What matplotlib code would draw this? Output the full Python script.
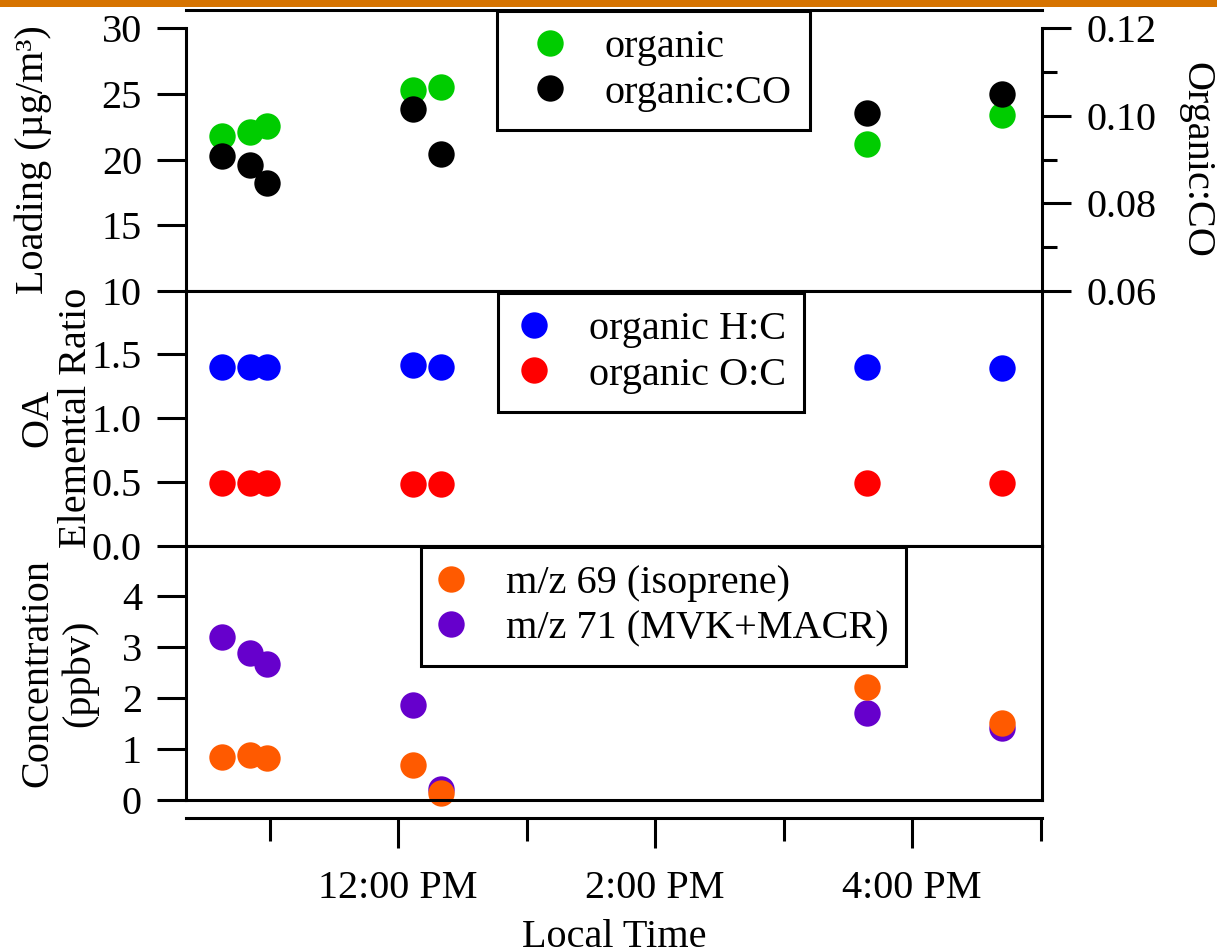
"""
Aerosol loading, elemental ratios and VOC concentrations over one afternoon.
"""

import matplotlib.pyplot as plt
from matplotlib.lines import Line2D
from matplotlib.patches import Rectangle
from matplotlib.ticker import FixedLocator

plt.rcParams["font.family"] = ["Liberation Serif", "DejaVu Serif"]

# sample times (local) and measured values
sample_times = ["10:38", "10:51", "10:59", "12:07", "12:20", "15:39", "16:42"]
organic = [21.8, 22.1, 22.6, 25.3, 25.5, 21.2, 23.4]
organic_co = [0.0909, 0.0888, 0.0847, 0.1016, 0.0914, 0.1006, 0.1050]
organic_hc = [1.40, 1.40, 1.40, 1.41, 1.40, 1.40, 1.39]
organic_oc = [0.49, 0.49, 0.49, 0.48, 0.48, 0.49, 0.49]
mz69_isoprene = [0.85, 0.88, 0.82, 0.69, 0.13, 2.21, 1.50]
mz71_mvk_macr = [3.20, 2.87, 2.66, 1.87, 0.21, 1.71, 1.42]

hour_ticks = [12, 14, 16]
hour_labels = ["12:00 PM", "2:00 PM", "4:00 PM"]
hour_minor = [11, 13, 15, 17]

W, H, DPI = 1217, 951, 100
FS = 29
LW = 2.2
MS = 19


def to_hours(stamp: str) -> float:
    hours, minutes = stamp.split(":")
    return int(hours) + int(minutes) / 60.0


def px_box(left, top, right, bottom):
    return [left / W, 1 - bottom / H, (right - left) / W, (bottom - top) / H]


def style_left(axis, ticks, labels):
    axis.set_yticks(ticks, labels)
    axis.tick_params(
        axis="y", which="major", direction="out", length=20.9, width=LW,
        pad=10.8, labelsize=FS, right=False,
    )
    axis.tick_params(axis="x", which="both", bottom=False, labelbottom=False)


def add_legend(axis, handles, left_px, top_px, handlelength, textpad):
    legend = axis.legend(
        handles=handles,
        loc="upper left",
        bbox_to_anchor=(left_px / W, 1 - top_px / H),
        bbox_transform=fig.transFigure,
        borderaxespad=0,
        fancybox=False,
        framealpha=1,
        edgecolor="black",
        fontsize=FS,
        handlelength=handlelength,
        handletextpad=textpad,
        borderpad=0.45,
        labelspacing=0.2,
    )
    legend.get_frame().set_linewidth(LW)
    return legend


def dots(color, label):
    return Line2D([], [], linestyle="none", marker="o", markersize=MS,
                  markerfacecolor=color, markeredgecolor="none", label=label)


hours = [to_hours(s) for s in sample_times]

fig = plt.figure(figsize=(W / DPI, H / DPI), dpi=DPI)
fig.add_artist(Rectangle((0, 1 - 6.5 / H), 1, 6.5 / H,
                         transform=fig.transFigure, color="#D67300", lw=0))

ax_load = fig.add_axes(px_box(186, 10, 1042, 291))
ax_ratio = fig.add_axes(px_box(186, 291, 1042, 545.5), sharex=ax_load)
ax_conc = fig.add_axes(px_box(186, 545.5, 1042, 800), sharex=ax_load)
ax_co = ax_load.twinx()

for axis in (ax_load, ax_ratio, ax_conc, ax_co):
    for spine in axis.spines.values():
        spine.set_linewidth(LW)

ax_load.set_xlim(10.35, 17.01)

# top panel: loading and organic:CO
ax_load.set_ylim(10, 31.4)
ax_load.spines["right"].set_visible(False)
ax_load.spines["left"].set_bounds(10, 30)
style_left(ax_load, [10, 15, 20, 25, 30], ["10", "15", "20", "25", "30"])

ax_co.set_ylim(0.06, 0.1242)
for side in ("left", "top", "bottom"):
    ax_co.spines[side].set_visible(False)
ax_co.spines["right"].set_bounds(0.06, 0.12)
ax_co.set_yticks([0.06, 0.08, 0.10, 0.12], ["0.06", "0.08", "0.10", "0.12"])
ax_co.yaxis.set_minor_locator(FixedLocator([0.07, 0.09, 0.11]))
ax_co.tick_params(axis="y", which="major", direction="out", length=20.9,
                  width=LW, pad=10.8, labelsize=FS)
ax_co.tick_params(axis="y", which="minor", direction="out", length=10.8,
                  width=LW)

ax_load.plot(hours, organic, "o", ms=MS, color="#00CC00", mec="none",
             clip_on=False)
ax_co.plot(hours, organic_co, "o", ms=MS, color="black", mec="none",
           clip_on=False)

# middle panel: elemental ratios
ax_ratio.set_ylim(0, 1.993)
style_left(ax_ratio, [0.0, 0.5, 1.0, 1.5], ["0.0", "0.5", "1.0", "1.5"])
ax_ratio.plot(hours, organic_hc, "o", ms=MS, color="#0000FF", mec="none")
ax_ratio.plot(hours, organic_oc, "o", ms=MS, color="#FF0000", mec="none")

# bottom panel: VOC concentrations
ax_conc.set_ylim(0, 4.985)
style_left(ax_conc, [0, 1, 2, 3, 4], ["0", "1", "2", "3", "4"])
ax_conc.plot(hours, mz71_mvk_macr, "o", ms=MS, color="#6600CC", mec="none",
             clip_on=False)
ax_conc.plot(hours, mz69_isoprene, "o", ms=MS, color="#FF5A00", mec="none",
             clip_on=False)

# detached time axis below the panels
time_axis = ax_conc.secondary_xaxis(-18 / 254.5)
time_axis.spines["bottom"].set_linewidth(LW)
time_axis.set_xticks(hour_ticks, hour_labels)
time_axis.xaxis.set_minor_locator(FixedLocator(hour_minor))
time_axis.tick_params(axis="x", which="major", direction="out", length=21.6,
                      width=LW, pad=16, labelsize=FS)
time_axis.tick_params(axis="x", which="minor", direction="out", length=16.5,
                      width=LW)

add_legend(ax_co, [dots("#00CC00", "organic"), dots("black", "organic:CO")],
           497, 11, 1.75, 0.475)
add_legend(ax_ratio, [dots("#0000FF", "organic H:C"),
                      dots("#FF0000", "organic O:C")],
           498, 293, 0.9, 0.9)
add_legend(ax_conc, [dots("#FF5A00", "m/z 69 (isoprene)"),
                     dots("#6600CC", "m/z 71 (MVK+MACR)")],
           421, 547, 0.6, 1.05)

label_kw = dict(fontsize=FS, ha="center", va="center", rotation=90)
fig.text(33 / W, 1 - 160 / H, "Loading (µg/m³)", **label_kw)
fig.text(38 / W, 1 - 418 / H, "OA", **label_kw)
fig.text(76 / W, 1 - 418 / H, "Elemental Ratio", **label_kw)
fig.text(38 / W, 1 - 673 / H, "Concentration", **label_kw)
fig.text(80 / W, 1 - 673 / H, "(ppbv)", **label_kw)
fig.text(1196 / W, 1 - 160 / H, "Organic:CO", fontsize=FS, ha="center",
         va="center", rotation=270)
fig.text(614 / W, 1 - 947 / H, "Local Time", fontsize=FS, ha="center",
         va="baseline")

fig.savefig("out.png", dpi=DPI)
